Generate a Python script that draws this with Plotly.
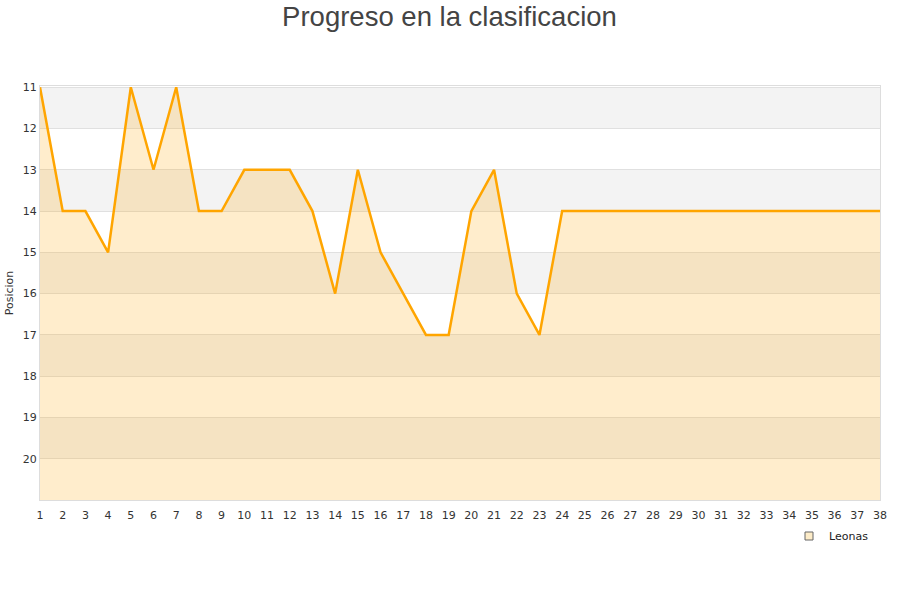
import plotly.graph_objects as go

jornadas = list(range(1, 39))
posiciones = [11, 14, 14, 15, 11, 13, 11, 14, 14, 13, 13, 13, 14, 16, 13, 15, 16, 17, 17, 14,
              13, 16, 17, 14, 14, 14, 14, 14, 14, 14, 14, 14, 14, 14, 14, 14, 14, 14]
y_ticks = list(range(11, 21))
equipo = "Leonas"
fondo = 21

fig = go.Figure()

# alternating bands
for k in range(11, 21, 2):
    fig.add_shape(type="rect", xref="paper", yref="y", x0=0, x1=1, y0=k, y1=k + 1,
                  fillcolor="#f3f3f3", line_width=0, layer="below")

fig.add_trace(go.Scatter(x=jornadas, y=[fondo] * len(jornadas), mode="lines",
                         line=dict(width=0), showlegend=False, hoverinfo="skip"))
fig.add_trace(go.Scatter(x=jornadas, y=posiciones, mode="lines", name=equipo,
                         line=dict(color="#ffa500", width=2.5), showlegend=False,
                         fill="tonexty", fillcolor="rgba(255,165,0,0.2)"))
# legend entry (square marker)
fig.add_trace(go.Scatter(x=[None], y=[None], mode="markers", name=equipo,
                         marker=dict(symbol="square", size=8, color="#fdecc8",
                                     line=dict(color="#666", width=1))))

fig.update_layout(
    width=900, height=600,
    paper_bgcolor="white", plot_bgcolor="rgba(0,0,0,0)",
    margin=dict(l=40, r=20, t=86, b=100, autoexpand=False),
    title=dict(text="Progreso en la clasificacion", x=449.5 / 900, xanchor="center",
               yref="container", y=1 - 16 / 600, yanchor="middle",
               font=dict(family="Liberation Sans, Arial", size=27.5, color="#444")),
    font=dict(family="DejaVu Sans", size=11, color="#333"),
    xaxis=dict(range=[1, 38], tickvals=jornadas, showgrid=False, zeroline=False, automargin=False,
               showline=True, linecolor="#ddd", mirror=True, ticks="", ticklen=0,
               ticklabelstandoff=5, tickfont=dict(size=11, color="#333")),
    yaxis=dict(range=[fondo, 10.97], tickvals=y_ticks, showgrid=True, gridcolor="#e0e0e0",
               zeroline=False, showline=True, linecolor="#ddd", mirror=True, automargin=False,
               title=dict(text="Posicion", font=dict(size=11, color="#333"), standoff=6),
               tickfont=dict(size=11, color="#333")),
    legend=dict(x=(789 - 40) / 840, y=(500 - 536) / 414, xanchor="left", yanchor="middle",
                bgcolor="rgba(255,255,255,0)", font=dict(size=11, color="#222")),
    showlegend=True,
)

fig.write_html("out.html", config={"displayModeBar": False},
               post_script="document.body.style.margin='0';")
